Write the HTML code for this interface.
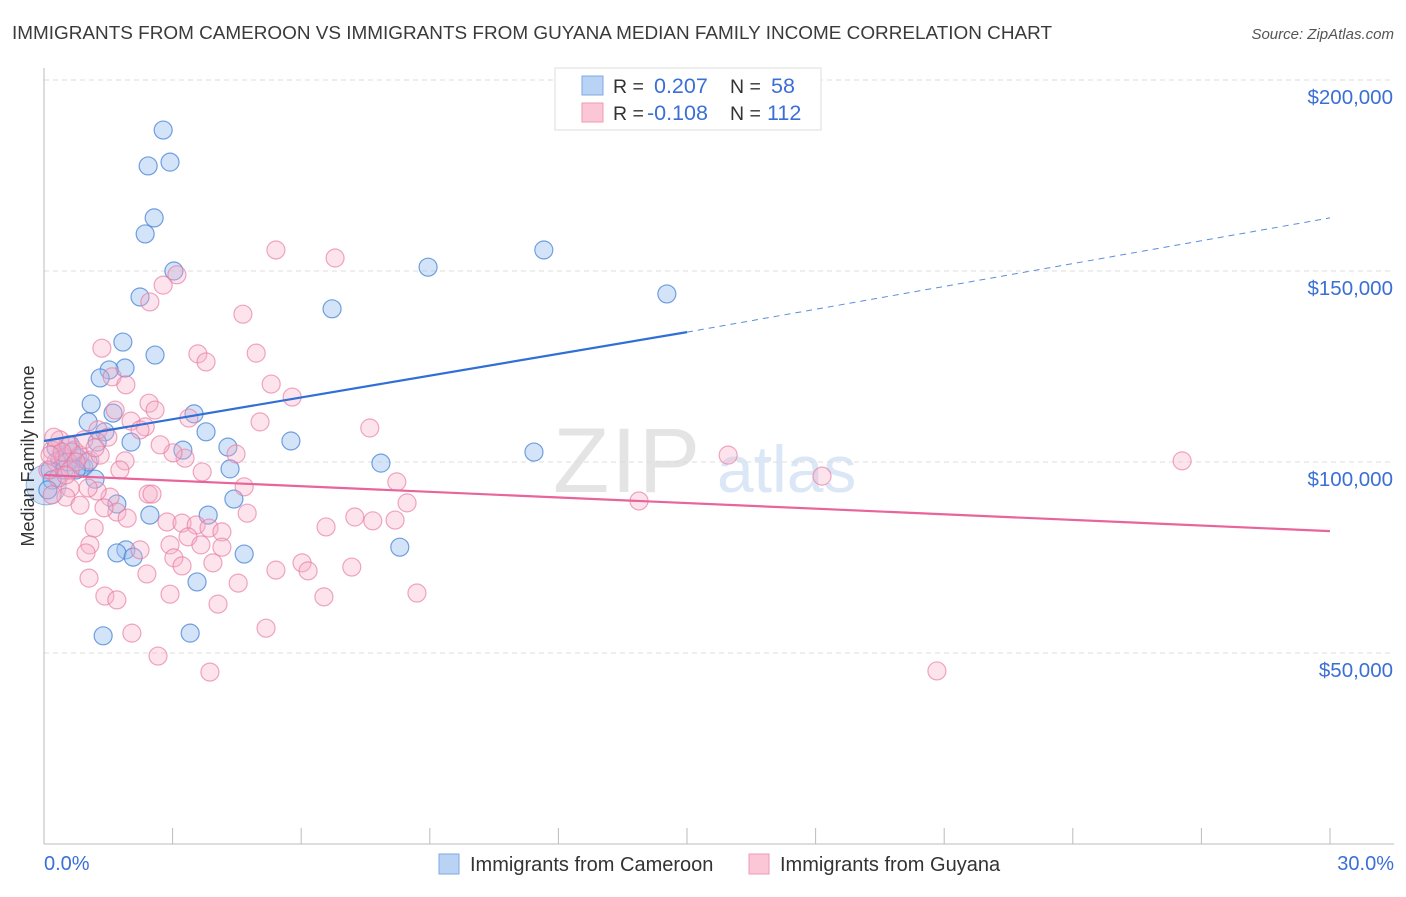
<!DOCTYPE html>
<html><head><meta charset="utf-8"><style>
body{margin:0;background:#fff;font-family:"Liberation Sans",sans-serif;}
svg text{font-family:"Liberation Sans",sans-serif;}
</style></head><body>
<svg id="chart" width="1406" height="892" viewBox="0 0 1406 892" xmlns="http://www.w3.org/2000/svg">
<text x="12" y="39" font-size="18.5" fill="#3a3a3a" textLength="1040" lengthAdjust="spacingAndGlyphs">IMMIGRANTS FROM CAMEROON VS IMMIGRANTS FROM GUYANA MEDIAN FAMILY INCOME CORRELATION CHART</text>
<text x="1394" y="39" font-size="15" fill="#555" text-anchor="end" font-style="italic">Source: ZipAtlas.com</text>
<text x="553" y="492" font-size="92" fill="#e4e4e4" font-family="Liberation Serif" letter-spacing="2">ZIP</text>
<text x="717" y="492" font-size="66" fill="#dbe7f6">atlas</text>
<g id="grid"></g>
<g id="axes"></g>
<g id="pts"></g>
<g id="trend"></g>
<text transform="translate(34,456) rotate(-90)" font-size="18" fill="#333" text-anchor="middle">Median Family Income</text>
<text x="44" y="870" font-size="20" fill="#3b6fd6">0.0%</text>
<text x="1394" y="870" font-size="20" fill="#3b6fd6" text-anchor="end">30.0%</text>
<g>
<rect x="555" y="68" width="266" height="62" fill="#fff" stroke="#ddd"/>
<rect x="582" y="76" width="21" height="19" fill="#b9d3f5" stroke="#7ea8e6"/>
<rect x="582" y="103" width="21" height="19" fill="#fbc6d6" stroke="#ef9ab5"/>
<text x="613" y="93" font-size="19.5" fill="#333">R =</text><text x="654" y="93" font-size="21.5" fill="#3b6fd6">0.207</text>
<text x="730" y="93" font-size="19.5" fill="#333">N =</text><text x="771" y="93" font-size="21.5" fill="#3b6fd6">58</text>
<text x="613" y="120" font-size="19.5" fill="#333">R =</text><text x="647" y="120" font-size="21.5" fill="#3b6fd6">-0.108</text>
<text x="730" y="120" font-size="19.5" fill="#333">N =</text><text x="767" y="120" font-size="21.5" fill="#3b6fd6">112</text>
</g>
<g>
<rect x="439" y="854" width="20" height="20" fill="#b9d3f5" stroke="#7ea8e6"/>
<text x="470" y="871" font-size="20" fill="#333">Immigrants from Cameroon</text>
<rect x="749" y="854" width="20" height="20" fill="#fbc6d6" stroke="#ef9ab5"/>
<text x="780" y="871" font-size="20" fill="#333">Immigrants from Guyana</text>
</g>
</svg>
<script>
const yTicks=[50000,100000,150000,200000];
const yTickLabels=["$50,000","$100,000","$150,000","$200,000"];
const xTicks=[0,3,6,9,12,15,18,21,24,27,30];
const camX=[2.78,2.43,2.94,2.57,2.36,3.03,2.24,8.96,11.66,14.53,6.72,1.84,2.59,1.89,1.52,1.31,1.10,1.61,3.50,1.03,3.78,2.03,3.24,4.29,5.76,11.43,1.42,1.24,0.61,0.42,0.86,0.93,4.34,7.86,1.19,4.43,1.70,2.47,3.83,1.91,1.70,2.08,4.67,8.30,3.57,1.38,3.41,0.14,0.19,0.37,0.79,1.03,0.47,0.65,0.28,0.56,0.75,0.09];
const camY=[186.9,177.5,178.5,163.9,159.7,150.0,143.2,151.0,155.5,144.0,140.1,131.4,128.0,124.6,124.1,122.0,115.2,112.8,112.6,110.5,107.9,105.2,103.1,103.9,105.5,102.6,107.9,105.2,104.5,101.8,99.0,98.7,98.2,99.7,95.5,90.3,89.0,86.1,86.1,77.0,76.2,75.1,75.9,77.7,68.6,54.5,55.2,97.9,95.3,100.5,101.0,100.0,97.9,102.6,103.7,100.0,97.9,92.7];
const guyX=[5.41,6.79,3.10,2.78,2.47,4.64,1.35,3.59,4.95,3.78,1.59,1.91,5.30,5.79,2.45,1.66,3.38,5.04,2.03,7.60,1.26,1.49,2.36,4.48,1.89,3.29,3.01,15.96,26.55,18.15,8.23,3.69,4.67,2.43,2.52,1.54,1.24,0.61,0.51,8.47,13.88,1.70,1.40,1.94,7.25,7.67,8.19,4.74,2.87,3.22,3.55,1.17,6.58,3.85,3.36,4.15,2.94,3.66,4.15,1.07,0.98,2.24,3.03,3.94,3.22,7.18,6.02,5.41,6.16,2.40,1.05,4.53,2.94,1.42,1.70,6.53,8.70,4.06,2.05,5.18,2.66,3.87,20.83,0.84,0.37,0.19,0.28,0.47,0.70,0.09,0.33,0.61,0.84,0.56,0.42,0.23,1.07,1.31,0.93,0.75,0.14,0.51,0.19,1.03,1.19,2.59,1.77,2.71,2.24];
const guyY=[155.5,153.4,149.0,146.3,141.9,138.7,129.8,128.3,128.5,126.2,122.3,120.2,120.4,117.0,115.4,113.6,111.5,110.5,110.7,108.9,108.4,106.5,109.2,102.1,100.3,101.0,102.4,101.8,100.3,96.3,94.8,97.4,93.5,91.6,91.6,90.8,92.4,93.2,90.8,89.3,89.8,86.9,88.0,85.3,85.6,84.6,84.8,86.6,84.3,84.0,83.5,82.7,83.0,82.7,80.4,81.7,78.3,78.3,77.7,78.3,76.2,77.0,74.9,73.6,72.8,72.5,73.6,71.7,71.5,70.7,69.6,68.3,65.4,64.9,63.9,64.7,65.7,62.8,55.2,56.5,49.2,45.0,45.3,88.7,105.8,103.1,100.0,101.0,103.1,97.9,95.8,97.9,101.8,104.5,102.6,106.5,100.5,101.8,105.8,100.0,101.8,96.6,91.4,93.2,103.7,113.6,97.9,104.5,108.4];
const camTrend=[105.5,134.0,163.9];
const guyTrend=[96.6,81.9];
const NS="http://www.w3.org/2000/svg";
const X=v=>44+v*(1286/30);
const Y=k=>653-(k*1000-50000)*(191/50000);
function mk(tag,attrs,parent){const e=document.createElementNS(NS,tag);for(const k in attrs)e.setAttribute(k,attrs[k]);parent.appendChild(e);return e;}
const grid=document.getElementById('grid'),axes=document.getElementById('axes'),pts=document.getElementById('pts'),tr=document.getElementById('trend');
yTicks.forEach((t,i)=>{const y=Y(t/1000);
const l=mk('line',{x1:44,x2:1394,y1:y,y2:y,stroke:'#ddd','stroke-dasharray':'5,4'},grid);


const tx=mk('text',{x:1393,y:y+24,'font-size':20.5,fill:'#3b6fd6','text-anchor':'end'},grid);tx.textContent=yTickLabels[i];


});
const ax=mk('line',{x1:44,x2:44,y1:68,y2:844,stroke:'#bbb'},axes);


const bx=mk('line',{x1:44,x2:1394,y1:844,y2:844,stroke:'#bbb'},axes);


xTicks.forEach(t=>{const x=X(t);const l=mk('line',{x1:x,x2:x,y1:828,y2:844,stroke:'#bbb'},axes);

});
const big=mk('circle',{cx:X(0.05),cy:Y(94),r:20,fill:'rgba(150,185,235,0.4)',stroke:'rgba(90,140,215,0.6)'},pts);


camX.forEach((x,i)=>{const c=mk('circle',{cx:X(x),cy:Y(camY[i]),r:9,fill:'rgba(160,195,240,0.45)',stroke:'rgba(70,130,215,0.75)','stroke-width':1.2},pts);

});
guyX.forEach((x,i)=>{const c=mk('circle',{cx:X(x),cy:Y(guyY[i]),r:9,fill:'rgba(245,175,200,0.35)',stroke:'rgba(232,120,160,0.65)','stroke-width':1.2},pts);

});
const t1=mk('line',{x1:X(0),y1:Y(camTrend[0]),x2:X(15),y2:Y(camTrend[1]),stroke:'#2f6fd6','stroke-width':2.2},tr);


const t2=mk('line',{x1:X(15),y1:Y(camTrend[1]),x2:X(30),y2:Y(camTrend[2]),stroke:'#5a8fd8','stroke-width':1,'stroke-dasharray':'6,5'},tr);


const t3=mk('line',{x1:X(0),y1:Y(guyTrend[0]),x2:X(30),y2:Y(guyTrend[1]),stroke:'#e8649a','stroke-width':2.2},tr);


</script>
</body></html>
